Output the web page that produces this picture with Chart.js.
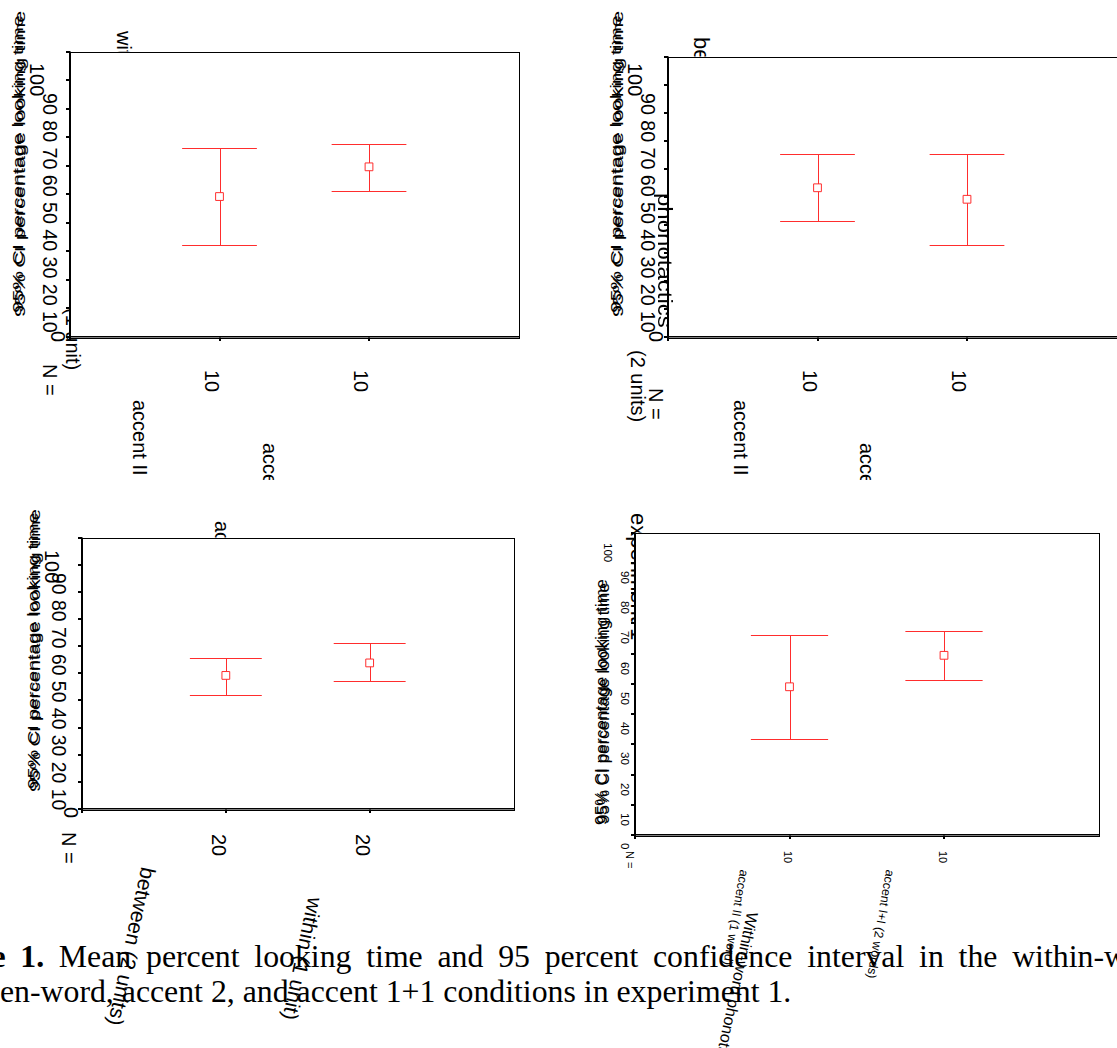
<!DOCTYPE html>
<html>
<head>
<meta charset="utf-8">
<script src="https://cdn.jsdelivr.net/npm/chart.js"></script>
<style>
  body { margin: 0; width: 1117px; height: 1048px; overflow: hidden; position: relative; background: #fff;
         font-family: "Liberation Sans", Arial, sans-serif; }
  #topRow { position: absolute; left: 0; top: 0; width: 1117px; height: 480px; overflow: hidden; }
  #botRow { position: absolute; left: 0; top: 0; width: 1117px; height: 1048px; overflow: hidden; }
  .t { position: absolute; white-space: nowrap; transform-origin: 0 0; color: #000; }
  canvas { position: absolute; z-index: 2; }
  .cap { position: absolute; z-index: 4; white-space: nowrap; color: #000;
         font-family: "Liberation Serif", "Times New Roman", serif; font-size: 31.8px; line-height: 31.8px; }
</style>
</head>
<body>
<div id="topRow"></div>
<div id="botRow"></div>
<div class="cap" style="left:-84px;top:941px;word-spacing:6.8px"><b>Figure 1.</b> Mean percent looking time and 95 percent confidence interval in the within-word,</div>
<div class="cap" style="left:-76px;top:976px">between-word, accent 2, and accent 1+1 conditions in experiment 1.</div>
<script>
const red = "rgb(255,45,45)";
const yTicks = [0, 10, 20, 30, 40, 50, 60, 70, 80, 90, 100];

// top left: within-word phonotactics (1 unit)
const withinCats = ["accent II (1 word)", "accent I+I (2 words)"];
const withinN = [10, 10];
const withinMean = [49.2, 59.6];
const withinLow = [32.3, 51.3];
const withinHigh = [66.3, 67.7];

// top right: between-word phonotactics (2 units)
const betweenCats = ["accent II (1 word)", "accent I+I (2 words)"];
const betweenN = [10, 10];
const betweenMean = [53.2, 49.1];
const betweenLow = [41.3, 32.8];
const betweenHigh = [65.3, 65.3];

// bottom left: accent
const accentCats = ["between (2 units)", "within (1 unit)"];
const accentN = [20, 20];
const accentMean = [49.2, 53.8];
const accentLow = [42.0, 47.0];
const accentHigh = [55.7, 61.0];

// bottom right: experiment 1
const expCats = ["accent II (1 word)", "accent I+I (2 words)"];
const expN = [10, 10];
const expMean = [49.0, 59.4];
const expLow = [31.8, 51.3];
const expHigh = [66.2, 67.5];

const yTitle = "95% CI percentage looking time";

const boxPlugin = {
  id: "box",
  beforeDraw(chart) {
    const a = chart.chartArea, ctx = chart.ctx;
    ctx.save();
    ctx.fillStyle = "#fff";
    ctx.fillRect(a.left, a.top, a.right - a.left, a.bottom - a.top);
    ctx.restore();
  },
  afterDraw(chart) {
    const a = chart.chartArea, ctx = chart.ctx;
    ctx.save();
    ctx.strokeStyle = "#000";
    ctx.lineWidth = 1;
    ctx.strokeRect(Math.round(a.left) + 0.5, Math.round(a.top) + 0.5,
      Math.round(a.right - a.left), Math.round(a.bottom - a.top));
    ctx.restore();
  }
};

const errorBars = {
  id: "errorBars",
  beforeDatasetsDraw(chart) {
    const ctx = chart.ctx, x = chart.scales.x, y = chart.scales.y;
    ctx.save();
    ctx.strokeStyle = red;
    ctx.lineWidth = 1;
    chart.data.datasets[0].data.forEach(p => {
      const cx = Math.round(x.getPixelForValue(p.x)) + 0.5;
      const top = Math.round(y.getPixelForValue(p.hi)) + 0.5;
      const bot = Math.round(y.getPixelForValue(p.lo)) + 0.5;
      const x0 = x.getPixelForValue(p.x - 0.25), x1 = x.getPixelForValue(p.x + 0.25);
      ctx.beginPath();
      ctx.moveTo(cx, top); ctx.lineTo(cx, bot);
      ctx.moveTo(x0, top); ctx.lineTo(x1, top);
      ctx.moveTo(x0, bot); ctx.lineTo(x1, bot);
      ctx.stroke();
    });
    ctx.restore();
  }
};

function panel(parent, box, mean, low, high) {
  const c = document.createElement("canvas");
  const W = box.w + 10, H = box.h + 10;
  c.width = W; c.height = H;
  c.style.left = (box.l - 8) + "px";
  c.style.top = (box.t - 2) + "px";
  c.style.width = W + "px";
  c.style.height = H + "px";
  parent.appendChild(c);
  const axisGrid = {
    drawOnChartArea: false, tickLength: 4, lineWidth: 2,
    color: ctx => (ctx.tick && ctx.tick.value === 3 ? "rgba(0,0,0,0)" : "#000")
  };
  const chart = new Chart(c, {
    type: "scatter",
    data: {
      datasets: [{
        data: mean.map((m, i) => ({ x: i + 1, y: m, lo: low[i], hi: high[i] })),
        pointStyle: "rect",
        pointRadius: 5.5,
        borderWidth: 1,
        borderColor: red,
        backgroundColor: "#fff"
      }]
    },
    options: {
      responsive: false,
      animation: false,
      devicePixelRatio: 1,
      events: [],
      layout: { padding: { left: 4, top: 2, right: 2, bottom: 4 } },
      plugins: { legend: { display: false }, tooltip: { enabled: false } },
      scales: {
        x: {
          type: "linear", min: 0, max: 3,
          ticks: { display: false, stepSize: 1 },
          grid: axisGrid,
          border: { color: "#000", width: 1.5 }
        },
        y: {
          min: yTicks[0], max: yTicks[yTicks.length - 1],
          ticks: { display: false, stepSize: 10 },
          grid: axisGrid,
          border: { color: "#000", width: 1.5 }
        }
      }
    },
    plugins: [boxPlugin, errorBars]
  });
  chart.ox = box.l - 8;
  chart.oy = box.t - 2;
  return chart;
}

function px(chart, i) { return chart.ox + chart.scales.x.getPixelForValue(i + 1); }
function py(chart, v) { return chart.oy + chart.scales.y.getPixelForValue(v); }

// rotated text; ang > 0 reads top to bottom, ang < 0 reads bottom to top
function txt(parent, s, cx, y, size, opt) {
  opt = opt || {};
  const ang = opt.ang || 90;
  const d = document.createElement("div");
  d.className = "t";
  d.textContent = s;
  d.style.fontSize = size + "px";
  d.style.lineHeight = size + "px";
  d.style.zIndex = opt.z || 1;
  d.style.left = (ang > 0 ? cx + size / 2 : cx - size / 2) + "px";
  d.style.top = y + "px";
  d.style.transform = "rotate(" + ang + "deg) scaleX(" + (opt.k || 1) + ")";
  parent.appendChild(d);
}

const topRow = document.getElementById("topRow");
const botRow = document.getElementById("botRow");
const mid = yTicks.slice(1, 10).reverse().join(" ");

// ---- top left
const c1 = panel(topRow, { l: 70, t: 47, w: 453, h: 290 }, withinMean, withinLow, withinHigh);
txt(topRow, yTitle, 19, 317, 15, { ang: -90, k: 1.44 });
txt(topRow, yTitle, 17, 313, 15, { ang: -90, k: 1.40 });
txt(topRow, String(yTicks[10]), 37, 63, 20);
txt(topRow, mid, 50, 93, 20, { k: 0.98 });
txt(topRow, String(yTicks[0]), 58, 331, 20);
txt(topRow, "N =", 50, 364, 20);
txt(topRow, "within-word phonotactics", 124, 31, 20);
txt(topRow, "(1 unit)", 73, 308, 20);
withinN.forEach((n, i) => txt(topRow, String(n), px(c1, i) - 8, 370, 20));
txt(topRow, withinCats[0], 140, 400, 20);
txt(topRow, withinCats[1], 270, 443, 20);

// ---- top right
const c2 = panel(topRow, { l: 668, t: 52, w: 453, h: 285 }, betweenMean, betweenLow, betweenHigh);
txt(topRow, yTitle, 617, 317, 15, { ang: -90, k: 1.44 });
txt(topRow, yTitle, 615, 313, 15, { ang: -90, k: 1.40 });
txt(topRow, String(yTicks[10]), 635, 63, 20);
txt(topRow, mid, 648, 93, 20, { k: 0.98 });
txt(topRow, String(yTicks[0]), 656, 331, 20);
txt(topRow, "between-word", 701, 37, 22);
txt(topRow, "phonotactics", 665, 193, 20, { k: 1.2, z: 3 });
txt(topRow, "(2 units)", 638, 350, 20);
txt(topRow, "N =", 656, 388, 20);
betweenN.forEach((n, i) => txt(topRow, String(n), px(c2, i) - 8, 370, 20));
txt(topRow, betweenCats[0], 741, 400, 20);
txt(topRow, betweenCats[1], 867, 443, 20);

// ---- bottom left
const c3 = panel(botRow, { l: 82, t: 533, w: 436, h: 276 }, accentMean, accentLow, accentHigh);
txt(botRow, yTitle, 34, 792, 15, { ang: -90, k: 1.33 });
txt(botRow, yTitle, 32, 789, 15, { ang: -90, k: 1.30 });
txt(botRow, String(yTicks[10]), 52, 550, 20);
txt(botRow, mid, 59, 573, 20, { k: 0.97 });
txt(botRow, String(yTicks[0]), 71, 807, 20);
txt(botRow, "N =", 69, 832, 20);
txt(botRow, "accent", 222, 521, 20);
accentN.forEach((n, i) => txt(botRow, String(n), px(c3, i) - 7, 834, 20));
txt(botRow, accentCats[0], 148, 870, 21, { ang: 102 });
txt(botRow, accentCats[1], 315, 900, 21, { ang: 102 });

// ---- bottom right
const c4 = panel(botRow, { l: 635, t: 528, w: 468, h: 307 }, expMean, expLow, expHigh);
txt(botRow, "experiment 1", 638, 513, 22);
txt(botRow, yTitle, 601, 825, 17, { ang: -90, k: 1.02 });
txt(botRow, yTitle, 603, 824, 17, { ang: -90, k: 1.0 });
yTicks.forEach(v => {
  if (v === 100) txt(botRow, String(v), 607, py(c4, v) + 10, 11.5);
  else txt(botRow, String(v), 624, py(c4, v) + 8, 11.5);
});
txt(botRow, "N =", 629, 851, 11);
expN.forEach((n, i) => txt(botRow, String(n), px(c4, i) - 2, 851, 11));
txt(botRow, expCats[0], 744, 871, 12.5, { ang: 100 });
txt(botRow, expCats[1], 890, 871, 12.5, { ang: 100 });
txt(botRow, "Within-word phonotactics", 752, 914, 16, { ang: 102 });
</script>
</body>
</html>
